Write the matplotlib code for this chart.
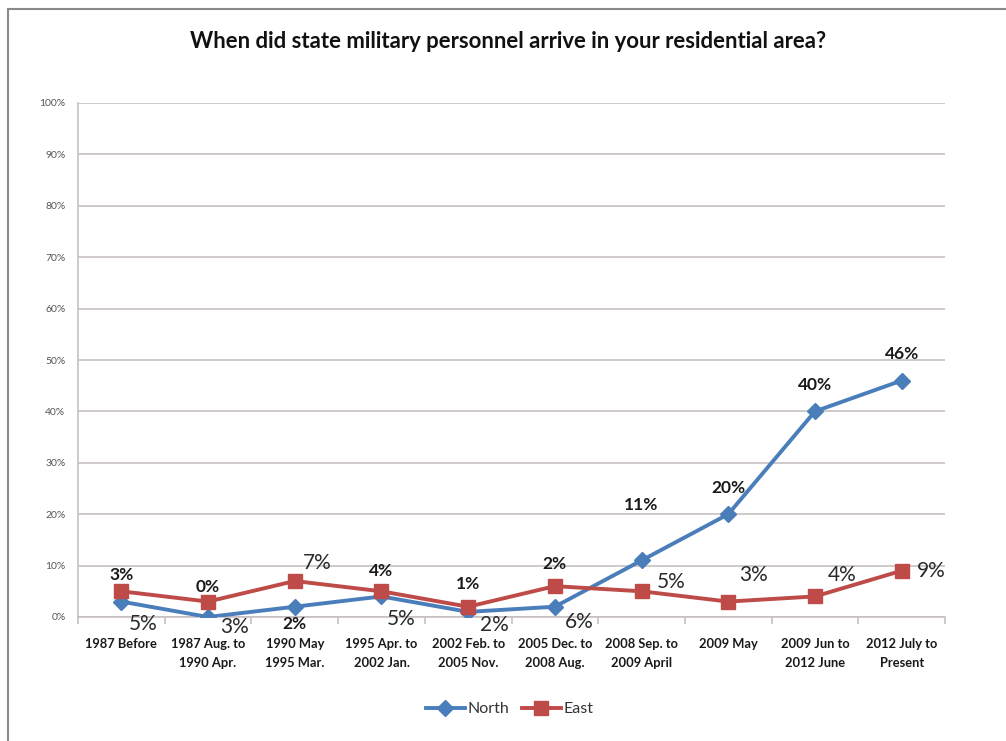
import matplotlib
matplotlib.use("Agg")
import matplotlib.pyplot as plt
from matplotlib.lines import Line2D
import numpy as np

categories = ["1987 Before", "1987 Aug. to\n1990 Apr.", "1990 May\n1995 Mar.",
              "1995 Apr. to\n2002 Jan.", "2002 Feb. to\n2005 Nov.", "2005 Dec. to\n2008 Aug.",
              "2008 Sep. to\n2009 April", "2009 May", "2009 Jun to\n2012 June",
              "2012 July to\nPresent"]
north = [3, 0, 2, 4, 1, 2, 11, 20, 40, 46]
east = [5, 3, 7, 5, 2, 6, 5, 3, 4, 9]
yticks = [0, 10, 20, 30, 40, 50, 60, 70, 80, 90, 100]

W, H = 1006, 741
fig = plt.figure(figsize=(W / 100, H / 100), dpi=100)
fig.patch.set_facecolor("white")
ax = fig.add_axes([78 / W, 1 - 617 / H, (945 - 78) / W, (617 - 103) / H])

x = np.arange(len(categories))
blue = "#4a7ebb"
red = "#be4b48"
ax.plot(x, north, color=blue, lw=2.8, marker="D", ms=8, mfc=blue, mec=blue, label="North", zorder=3)
ax.plot(x, east, color=red, lw=2.8, marker="s", ms=10, mfc=red, mec=red, label="East", zorder=4)

ax.set_xlim(-0.5, len(categories) - 0.5)
ax.set_ylim(0, 100)
ax.set_yticks(yticks)
ax.set_yticklabels([f"{v}%" for v in yticks], fontsize=7.5, color="#555555", family="Lato")
ax.grid(axis="y", color="#c8c0c0", lw=1.2)
ax.set_axisbelow(True)
for s in ["top", "right"]:
    ax.spines[s].set_visible(False)
ax.spines["left"].set_color("#c8c0c0")
ax.spines["bottom"].set_color("#c8c0c0")
ax.spines["left"].set_linewidth(1.2)
ax.spines["bottom"].set_linewidth(1.2)
ax.tick_params(axis="y", length=0, pad=9)

ax.set_xticks(x)
ax.set_xticklabels(categories, fontsize=9.3, fontweight="bold", family="Lato", color="#1a1a1a", linespacing=1.7)
ax.set_xticks(np.arange(len(categories) + 1) - 0.5, minor=True)
ax.tick_params(axis="x", which="major", length=0, pad=15)
ax.tick_params(axis="x", which="minor", length=5, color="#c8c0c0", width=1.2)

# North labels (bold), offsets in pixels (dx right, dy up)
north_off = [(0, 27), (0, 30), (0, -17), (0, 25), (0, 28), (0, 43), (0, 55), (0, 26), (0, 26), (0, 27)]
for i, v in enumerate(north):
    dx, dy = north_off[i]
    ax.annotate(f"{v}%", (x[i], v), xytext=(dx, dy), textcoords="offset pixels",
                ha="center", va="center", fontsize=12.5, fontweight="bold", family="Lato", color="#1a1a1a")

east_off = [(22, -33), (26, -25), (22, 18), (20, -28), (26, -18), (24, -36), (30, 9), (25, 27), (27, 21), (30, 0)]
for i, v in enumerate(east):
    dx, dy = east_off[i]
    ax.annotate(f"{v}%", (x[i], v), xytext=(dx, dy), textcoords="offset pixels",
                ha="center", va="center", fontsize=15, family="Lato", color="#2a2a2a")

fig.text(508 / W, 1 - 42 / H, "When did state military personnel arrive in your residential area?",
         ha="center", va="center", fontsize=15.9, fontweight="bold", family="Lato", color="#111111")

leg = fig.legend(loc="center", bbox_to_anchor=(510 / W, 1 - 709 / H), ncol=2, frameon=False,
                 prop={"family": "Lato", "size": 11.5}, handlelength=2.4, columnspacing=0.8,
                 handletextpad=0.2, borderaxespad=0)
for t in leg.get_texts():
    t.set_color("#333333")

# frame lines (left and top)
fig.add_artist(Line2D([8 / W, 8 / W], [0, 1 - 9 / H], transform=fig.transFigure, color="#8a8a8a", lw=1.5))
fig.add_artist(Line2D([8 / W, 1], [1 - 9 / H, 1 - 9 / H], transform=fig.transFigure, color="#8a8a8a", lw=1.5))

fig.savefig("out.png", dpi=100, facecolor="white")
